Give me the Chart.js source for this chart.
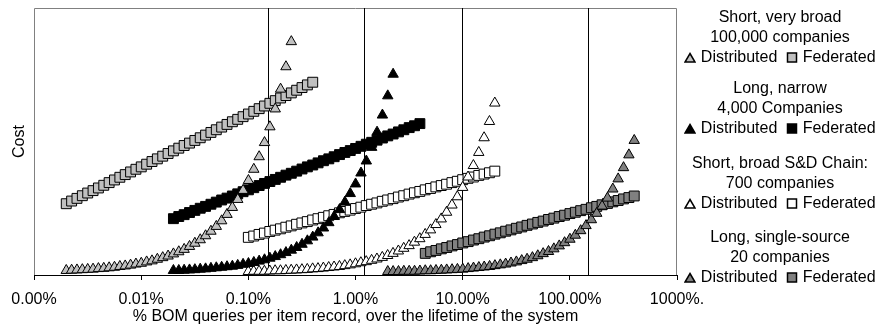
<!DOCTYPE html>
<html>
<head>
<meta charset="utf-8">
<script src="https://cdn.jsdelivr.net/npm/chart.js@4.4.1/dist/chart.umd.min.js"></script>
<style>
body { margin: 0; background: #fff; }
#wrap { position: relative; width: 878px; height: 332px; }
.grp { position: absolute; left: 680px; width: 200px; text-align: center; font: 16px "Liberation Sans", Arial, sans-serif; color: #000; line-height: 20px; }
.grp svg { vertical-align: -1px; }
</style>
</head>
<body>
<div id="wrap">
  <canvas id="myChart" width="878" height="332"></canvas>
  <div id="legend"></div>
</div>
<script>
// x axis (% BOM queries per item record), log scale
var xTickValues = [0.001, 0.01, 0.1, 1, 10, 100, 1000];
var xTickLabels = ['0.00%', '0.01%', '0.10%', '1.00%', '10.00%', '100.00%', '1000%.'];
var markerLinesX = [0.152, 1.2, 9.9, 148];

var scenarioNames = [
    ['Short, very broad', '100,000 companies'],
    ['Long, narrow', '4,000 Companies'],
    ['Short, broad S&D Chain:', '700 companies'],
    ['Long, single-source', '20 companies']
];
var scenarioColors = ['#c0c0c0', '#000000', '#ffffff', '#808080'];

// query rates (%) per scenario
var xShortVeryBroad = [0.002, 0.002244, 0.002518, 0.002825, 0.00317, 0.003557, 0.00399, 0.004477, 0.005024, 0.005637,
    0.006325, 0.007096, 0.007962, 0.008934, 0.01002, 0.01125, 0.01262, 0.01416, 0.01589, 0.01783,
    0.02, 0.02244, 0.02518, 0.02825, 0.0317, 0.03557, 0.0399, 0.04477, 0.05024, 0.05637,
    0.06325, 0.07096, 0.07962, 0.08934, 0.1002, 0.1125, 0.1262, 0.1416, 0.1589, 0.1783,
    0.2, 0.2244, 0.2518, 0.2825, 0.317, 0.3557, 0.399];
var xLongNarrow = [0.02, 0.02244, 0.02518, 0.02825, 0.0317, 0.03557, 0.0399, 0.04477, 0.05024, 0.05637,
    0.06325, 0.07096, 0.07962, 0.08934, 0.1002, 0.1125, 0.1262, 0.1416, 0.1589, 0.1783,
    0.2, 0.2244, 0.2518, 0.2825, 0.317, 0.3557, 0.399, 0.4477, 0.5024, 0.5637,
    0.6325, 0.7096, 0.7962, 0.8934, 1.002, 1.125, 1.262, 1.416, 1.589, 1.783,
    2, 2.244, 2.518, 2.825, 3.17, 3.557, 3.99];
var xShortBroad = [0.1, 0.1122, 0.1259, 0.1413, 0.1585, 0.1778, 0.1995, 0.2239, 0.2512, 0.2818,
    0.3162, 0.3548, 0.3981, 0.4467, 0.5012, 0.5623, 0.631, 0.7079, 0.7943, 0.8913,
    1, 1.122, 1.259, 1.413, 1.585, 1.778, 1.995, 2.239, 2.512, 2.818,
    3.162, 3.548, 3.981, 4.467, 5.012, 5.623, 6.31, 7.079, 7.943, 8.913,
    10, 11.22, 12.59, 14.13, 15.85, 17.78, 19.95];
var xSingleSource = [2, 2.244, 2.518, 2.825, 3.17, 3.557, 3.99, 4.477, 5.024, 5.637,
    6.325, 7.096, 7.962, 8.934, 10.02, 11.25, 12.62, 14.16, 15.89, 17.83,
    20, 22.44, 25.18, 28.25, 31.7, 35.57, 39.9, 44.77, 50.24, 56.37,
    63.25, 70.96, 79.62, 89.34, 100.2, 112.5, 126.2, 141.6, 158.9, 178.3,
    200, 224.4, 251.8, 282.5, 317, 355.7, 399];

// cost, Federated
var fedShortVeryBroad = [26.7, 27.7, 28.7, 29.7, 30.7, 31.6, 32.6, 33.6, 34.6, 35.6,
    36.6, 37.6, 38.6, 39.6, 40.5, 41.5, 42.5, 43.5, 44.5, 45.5,
    46.5, 47.5, 48.5, 49.4, 50.4, 51.4, 52.4, 53.4, 54.4, 55.4,
    56.4, 57.4, 58.3, 59.3, 60.3, 61.3, 62.3, 63.3, 64.3, 65.3,
    66.3, 67.2, 68.2, 69.2, 70.2, 71.2, 72.2];
var fedLongNarrow = [21.1, 21.9, 22.6, 23.4, 24.2, 25.0, 25.7, 26.5, 27.3, 28.1,
    28.8, 29.6, 30.4, 31.2, 31.9, 32.7, 33.5, 34.3, 35.0, 35.8,
    36.6, 37.4, 38.1, 38.9, 39.7, 40.5, 41.2, 42.0, 42.8, 43.5,
    44.3, 45.1, 45.9, 46.6, 47.4, 48.2, 49.0, 49.7, 50.5, 51.3,
    52.1, 52.8, 53.6, 54.4, 55.2, 55.9, 56.7];
var fedShortBroad = [14.1, 14.6, 15.2, 15.7, 16.3, 16.8, 17.3, 17.9, 18.4, 19.0,
    19.5, 20.0, 20.6, 21.1, 21.6, 22.2, 22.7, 23.3, 23.8, 24.3,
    24.9, 25.4, 26.0, 26.5, 27.0, 27.6, 28.1, 28.6, 29.2, 29.7,
    30.3, 30.8, 31.3, 31.9, 32.4, 33.0, 33.5, 34.0, 34.6, 35.1,
    35.7, 36.2, 36.7, 37.3, 37.8, 38.3, 38.9];
var fedSingleSource = [null, null, null, null, null, null, null, 8.1, 8.7, 9.2,
    9.8, 10.3, 10.9, 11.4, 12.0, 12.5, 13.1, 13.6, 14.2, 14.7,
    15.3, 15.8, 16.4, 16.9, 17.5, 18.0, 18.6, 19.1, 19.7, 20.2,
    20.8, 21.3, 21.9, 22.4, 23.0, 23.5, 24.1, 24.6, 25.2, 25.7,
    26.3, 26.8, 27.4, 27.9, 28.5, 29.0, 29.6];

// cost, Distributed
var distShortVeryBroad = [1.7, 1.8, 1.9, 2.0, 2.1, 2.2, 2.4, 2.5, 2.7, 2.9,
    3.2, 3.4, 3.7, 4.1, 4.4, 4.9, 5.3, 5.9, 6.5, 7.1,
    7.9, 8.7, 9.6, 10.7, 11.9, 13.2, 14.7, 16.4, 18.2, 20.3,
    22.7, 25.3, 28.3, 31.7, 35.4, 39.6, 44.3, 49.6, 55.5, 62.2,
    69.6, 78.0, 87.4];
var distLongNarrow = [1.7, 1.7, 1.8, 1.9, 2.0, 2.2, 2.3, 2.5, 2.7, 2.9,
    3.1, 3.3, 3.6, 4.0, 4.3, 4.7, 5.2, 5.7, 6.3, 6.9,
    7.6, 8.4, 9.3, 10.3, 11.5, 12.8, 14.2, 15.8, 17.6, 19.6,
    21.9, 24.5, 27.3, 30.5, 34.1, 38.2, 42.7, 47.8, 53.5, 59.9,
    67.1, 75.2];
var distShortBroad = [1.3, 1.4, 1.4, 1.4, 1.5, 1.6, 1.6, 1.7, 1.8, 1.9,
    2.0, 2.1, 2.3, 2.4, 2.6, 2.8, 3.0, 3.2, 3.5, 3.8,
    4.2, 4.6, 5.0, 5.5, 6.0, 6.6, 7.3, 8.1, 9.0, 10.0,
    11.0, 12.3, 13.6, 15.2, 16.9, 18.9, 21.0, 23.5, 26.2, 29.3,
    32.8, 36.7, 41.0, 45.9, 51.4, 57.5, 64.4];
var distSingleSource = [1.3, 1.3, 1.3, 1.4, 1.4, 1.4, 1.5, 1.6, 1.6, 1.7,
    1.8, 1.9, 2.0, 2.1, 2.2, 2.4, 2.6, 2.8, 3.0, 3.2,
    3.5, 3.8, 4.1, 4.5, 4.9, 5.4, 5.9, 6.5, 7.2, 8.0,
    8.8, 9.8, 10.9, 12.1, 13.4, 14.9, 16.6, 18.5, 20.7, 23.1,
    25.8, 28.8, 32.2, 36.0, 40.2, 45.0, 50.4];

var xSets = [xShortVeryBroad, xLongNarrow, xShortBroad, xSingleSource];
var fedSets = [fedShortVeryBroad, fedLongNarrow, fedShortBroad, fedSingleSource];
var distSets = [distShortVeryBroad, distLongNarrow, distShortBroad, distSingleSource];

function points(xs, ys) {
    var out = [];
    for (var i = 0; i < ys.length; i++) {
        if (ys[i] !== null) out.push({ x: xs[i], y: ys[i] });
    }
    return out;
}

var datasets = [];
for (var s = 0; s < 4; s++) {
    datasets.push({
        label: 'Federated',
        data: points(xSets[s], fedSets[s]),
        pointStyle: 'rect', pointRadius: 7,
        backgroundColor: scenarioColors[s], borderColor: '#000', borderWidth: 1,
        order: 5
    });
}
for (var s = 0; s < 4; s++) {
    datasets.push({
        label: 'Distributed',
        data: points(xSets[s], distSets[s]),
        pointStyle: 'triangle', pointRadius: 6,
        backgroundColor: scenarioColors[s], borderColor: '#000', borderWidth: 1,
        order: 1
    });
}

// gray frame + black vertical marker lines, under the points
var framePlugin = {
    id: 'frame',
    beforeDatasetsDraw: function (chart) {
        var ctx = chart.ctx, a = chart.chartArea, xs = chart.scales.x;
        ctx.save();
        ctx.lineWidth = 1;
        ctx.strokeStyle = '#808080';
        ctx.beginPath();
        ctx.moveTo(a.left + 0.5, a.bottom);
        ctx.lineTo(a.left + 0.5, a.top + 0.5);
        ctx.lineTo(a.right - 0.5, a.top + 0.5);
        ctx.lineTo(a.right - 0.5, a.bottom);
        ctx.stroke();
        ctx.strokeStyle = '#000';
        ctx.beginPath();
        markerLinesX.forEach(function (v) {
            var px = Math.round(xs.getPixelForValue(v)) + 0.5;
            ctx.moveTo(px, a.top);
            ctx.lineTo(px, a.bottom);
        });
        ctx.stroke();
        ctx.restore();
    }
};

Chart.defaults.font.family = '"Liberation Sans", Arial, sans-serif';
Chart.defaults.font.size = 16;
Chart.defaults.color = '#000';

var ctx = document.getElementById('myChart').getContext('2d');
var myChart = new Chart(ctx, {
    type: 'scatter',
    data: { datasets: datasets },
    plugins: [framePlugin],
    options: {
        responsive: false,
        animation: false,
        layout: { padding: { top: 5, right: 201, left: 0, bottom: 0 } },
        plugins: { legend: { display: false }, tooltip: { enabled: false } },
        scales: {
            x: {
                type: 'logarithmic',
                min: 0.001,
                max: 1000,
                afterBuildTicks: function (axis) {
                    axis.ticks = xTickValues.map(function (v) { return { value: v }; });
                },
                afterFit: function (axis) { axis.height = 57; },
                ticks: {
                    autoSkip: false, maxRotation: 0, padding: 10,
                    callback: function (v, i) { return xTickLabels[i]; }
                },
                grid: { drawOnChartArea: false, drawTicks: true, tickLength: 5, color: '#000' },
                border: { color: '#000', width: 1 },
                title: {
                    display: true,
                    text: '% BOM queries per item record, over the lifetime of the system',
                    padding: { top: 0, bottom: 6 }
                }
            },
            y: {
                min: 0,
                max: 100,
                afterFit: function (axis) { axis.width = 34; },
                ticks: { display: false },
                grid: { display: false },
                border: { display: false },
                title: { display: true, text: 'Cost', padding: { top: 10, bottom: 0 } }
            }
        }
    }
});

// legend, drawn as text beside the chart
var groupTops = [7, 78, 153, 227];
var legendHtml = '';
scenarioNames.forEach(function (names, i) {
    var c = scenarioColors[i];
    var tri = '<svg width="12" height="11"><polygon points="6,1.5 11,10 1,10" fill="' + c + '" stroke="#000" stroke-width="1.5"/></svg>';
    var sq = '<svg width="12" height="11"><rect x="1.5" y="1" width="9" height="9" fill="' + c + '" stroke="#000" stroke-width="1.5"/></svg>';
    legendHtml += '<div class="grp" style="top:' + groupTops[i] + 'px">' +
        '<div>' + names[0] + '</div><div>' + names[1] + '</div>' +
        '<div>' + tri + ' Distributed &nbsp;' + sq + ' Federated</div></div>';
});
document.getElementById('legend').innerHTML = legendHtml;
</script>
</body>
</html>
